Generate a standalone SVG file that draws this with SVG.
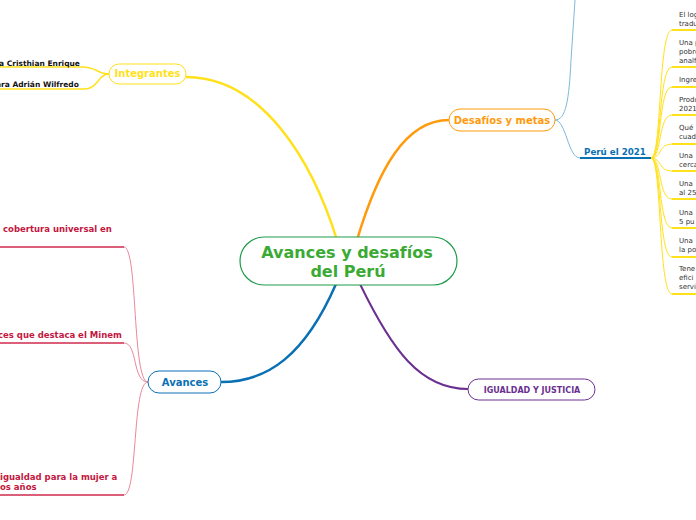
<svg xmlns="http://www.w3.org/2000/svg" width="696" height="520" viewBox="0 0 696 520">
<style>
text{font-family:"DejaVu Sans","Verdana",sans-serif}
.b{font-weight:bold}
.main{fill:#3aaa35;font-size:16px;font-weight:bold}
.lbl{font-size:10px;font-weight:bold}
.blk{font-size:7.5px;font-weight:bold;fill:#111}
.red{font-size:8.5px;font-weight:bold;fill:#c3173f}
.sm{font-size:7px;fill:#333}
.line{fill:none}
</style>
<rect width="696" height="520" fill="#fff"/>
<g id="connectors" class="line">
<path d="M337,240 C312,160 262,77 186,77" stroke="#ffe11a" stroke-width="2.5"/>
<path d="M357,240 C378,170 405,120 449,120" stroke="#ff9a0d" stroke-width="2.5"/>
<path d="M336,284 C305,355 268,382 221,382" stroke="#0a70b4" stroke-width="2.5"/>
<path d="M360,284 C392,350 420,389 468,389" stroke="#6a2f90" stroke-width="2"/>
<path d="M0,67 L83,67 C96,67 98,74 109,74" stroke="#ffe11a" stroke-width="1.5"/>
<path d="M0,89 L85,89 C98,89 98,74 109,74" stroke="#ffe11a" stroke-width="1.5"/>
<path d="M555,120 C566,120 569,100 571,60 L575,0" stroke="#7fb8d8" stroke-width="1"/>
<path d="M555,120 C566,120 568,158 580,158" stroke="#7fb8d8" stroke-width="1"/>
<path d="M580,158 L651,158" stroke="#0a70b4" stroke-width="2"/>
<g stroke="#ffe11a" stroke-width="1">
<path d="M651,158 C662,158 658,30 672,30"/>
<path d="M651,158 C662,158 658,67 672,67"/>
<path d="M651,158 C662,158 658,87 672,87"/>
<path d="M651,158 C662,158 658,115 672,115"/>
<path d="M651,158 C662,158 658,144 672,144"/>
<path d="M651,158 C662,158 658,171 672,171"/>
<path d="M651,158 C662,158 658,199 672,199"/>
<path d="M651,158 C662,158 658,228 672,228"/>
<path d="M651,158 C662,158 658,257 672,257"/>
<path d="M651,158 C662,158 658,294 672,294"/>
</g>
<g stroke="#ffe11a" stroke-width="2">
<path d="M672,30 H696"/><path d="M672,67 H696"/><path d="M672,87 H696"/><path d="M672,115 H696"/><path d="M672,144 H696"/><path d="M672,171 H696"/><path d="M672,199 H696"/><path d="M672,228 H696"/><path d="M672,257 H696"/><path d="M672,294 H696"/>
</g>
<g stroke="#e8889c" stroke-width="1">
<path d="M124,247 C138,247 132,382 148,382"/>
<path d="M124,343 C138,343 132,382 148,382"/>
<path d="M124,495 C138,495 132,382 148,382"/>
</g>
<g stroke="#d12a4e" stroke-width="1.5">
<path d="M0,247 H124"/><path d="M0,343 H124"/><path d="M0,495 H124"/>
</g>
</g>
<g id="center">
<rect x="240" y="237" width="217" height="48" rx="24" fill="#fff" stroke="#1e9b4a" stroke-width="1.2"/>
<text class="main" x="347" y="258" text-anchor="middle">Avances y desafíos</text>
<text class="main" x="348" y="277" text-anchor="middle">del Perú</text>
</g>
<g id="integrantes">
<rect x="109" y="64" width="77" height="20" rx="10" fill="#fff" stroke="#ffe11a" stroke-width="1"/>
<text class="lbl" x="147.5" y="77" text-anchor="middle" fill="#ffe11a" font-size="8.5">Integrantes</text>
</g>
<g id="int1"><text class="blk" x="-1" y="66">a Cristhian Enrique</text></g>
<g id="int2"><text class="blk" x="-4" y="87">ara Adrián Wilfredo</text></g>
<g id="desafios">
<rect x="449" y="109" width="106" height="22" rx="11" fill="#fff" stroke="#ff9a0d" stroke-width="1"/>
<text class="lbl" x="502" y="123.5" text-anchor="middle" fill="#ff9a0d" font-size="8.8">Desafíos y metas</text>
</g>
<g id="peru2021"><text class="b" x="615" y="154.5" text-anchor="middle" fill="#0a70b4" font-size="8.7">Perú el 2021</text></g>
<g id="items" class="sm">
<g id="i1"><text x="679" y="17">El log</text><text x="679" y="26">tradu</text></g>
<g id="i2"><text x="679" y="45">Una p</text><text x="679" y="54">pobre</text><text x="679" y="63">analf</text></g>
<g id="i3"><text x="679" y="82">Ingre</text></g>
<g id="i4"><text x="679" y="102">Produ</text><text x="679" y="111">2021</text></g>
<g id="i5"><text x="679" y="130">Qué</text><text x="679" y="139">cuad</text></g>
<g id="i6"><text x="679" y="158">Una</text><text x="679" y="167">cerca</text></g>
<g id="i7"><text x="679" y="186">Una</text><text x="679" y="195">al 25</text></g>
<g id="i8"><text x="679" y="215">Una</text><text x="679" y="224">5 pu</text></g>
<g id="i9"><text x="679" y="243">Una</text><text x="679" y="252">la po</text></g>
<g id="i10"><text x="679" y="271">Tene</text><text x="679" y="280">efici</text><text x="679" y="289">servi</text></g>
</g>
<g id="avances">
<rect x="148" y="371" width="73" height="22" rx="11" fill="#fff" stroke="#0a70b4" stroke-width="1"/>
<text class="lbl" x="185" y="386" text-anchor="middle" fill="#0a70b4" font-size="10.5">Avances</text>
</g>
<g id="av1"><text class="red" x="3" y="232">cobertura universal en</text></g>
<g id="av2"><text class="red" x="-2" y="338">ces que destaca el Minem</text></g>
<g id="av3"><text class="red" x="0" y="480">igualdad para la mujer a</text><text class="red" x="0" y="490">os años</text></g>
<g id="igualdad">
<rect x="468" y="379" width="127" height="21" rx="10.5" fill="#fff" stroke="#6a2f90" stroke-width="1"/>
<text class="b" x="532" y="392.5" text-anchor="middle" fill="#6a2f90" font-size="8">IGUALDAD Y JUSTICIA</text>
</g>
</svg>
